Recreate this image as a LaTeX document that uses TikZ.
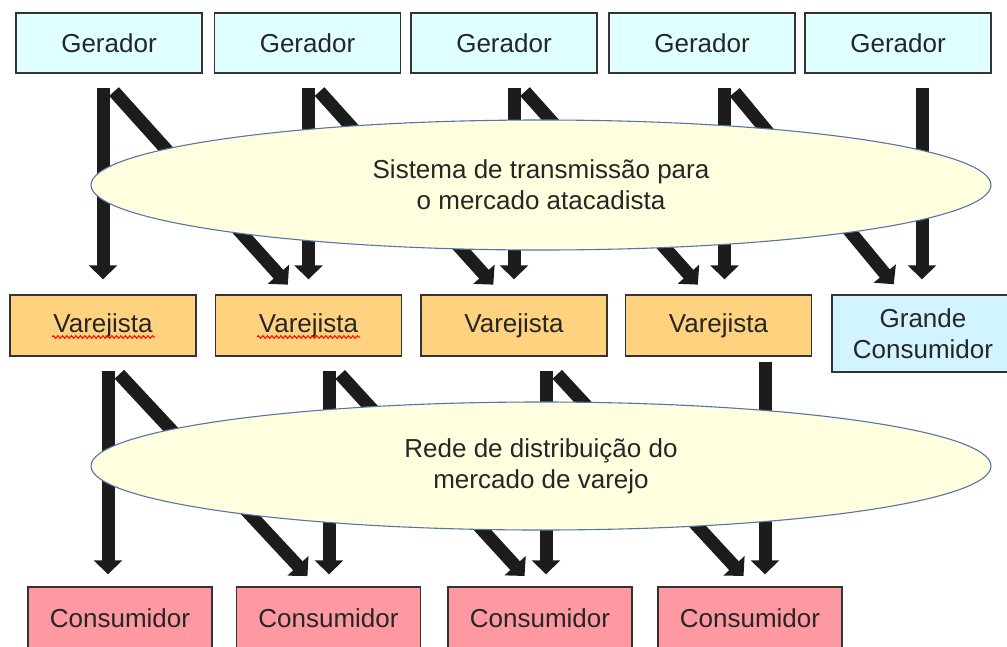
\documentclass[tikz,border=0pt]{standalone}
\usepackage{fontspec}
\setmainfont{Liberation Sans}
\usepackage{tikz}
\usetikzlibrary{arrows.meta, shapes.geometric, decorations.pathmorphing}
\usepackage{xcolor}

\definecolor{gerfill}{HTML}{E0FFFF}
\definecolor{grfill}{HTML}{D2F4FF}
\definecolor{varfill}{HTML}{FFD280}
\definecolor{confill}{HTML}{FF99A1}
\definecolor{elfill}{HTML}{FFFFE0}
\definecolor{elline}{HTML}{5676A8}
\definecolor{boxline}{HTML}{333333}
\definecolor{arrowcol}{HTML}{1C1C1C}

\begin{document}
\begin{tikzpicture}[x=1pt,y=-1pt]
\tikzstyle{box} = [
	shape=rectangle,
	draw=boxline, %border of the boxes
	line width=1.4pt,
	minimum height=60pt,
	inner sep=0pt,
	text=black!85,
	font=\fontsize{26}{31}\selectfont
];
\tikzstyle{gerador} = [box, fill=gerfill, minimum width=186pt];
\tikzstyle{varejista} = [box, fill=varfill, minimum width=186pt, minimum height=61pt];
\tikzstyle{consumidor} = [box, fill=confill, minimum width=184pt, minimum height=62pt];
\tikzstyle{grande} = [box, fill=grfill, minimum width=182pt, minimum height=77pt, align=center];
\tikzstyle{rede} = [
	shape=ellipse,
	draw=elline,
	fill=elfill,
	line width=1.1pt,
	minimum width=900pt,
	inner sep=0pt,
	align=center,
	text=black!85,
	font=\fontsize{26}{31}\selectfont
];
\tikzstyle{flow} = [-{Triangle[length=14pt,width=28pt]}, line width=13pt, color=arrowcol];
\tikzstyle{straight} = [flow, shorten <=14pt, shorten >=15pt];
\tikzstyle{slant} = [flow, shorten <=24pt, shorten >=13pt];
\tikzstyle{spell} = [red, line width=1pt, decorate, decoration={snake, amplitude=1.3pt, segment length=4.5pt}];

\path[use as bounding box, fill=white] (0,0) rectangle (1007,646);

%generators
\node[gerador](g1) at (109,43) {Gerador};
\node[gerador](g2) at (307.5,43) {Gerador};
\node[gerador](g3) at (504,43) {Gerador};
\node[gerador](g4) at (702,43) {Gerador};
\node[gerador](g5) at (898,43) {Gerador};

%retailers
\node[varejista](v1) at (103,325.5) {Varejista};
\node[varejista](v2) at (308.5,325.5) {Varejista};
\node[varejista](v3) at (514,325.5) {Varejista};
\node[varejista](v4) at (718.5,325.5) {Varejista};
\node[grande](gc) at (923,333.5) {Grande\\Consumidor};

%consumers
\node[consumidor](c1) at (120,618) {Consumidor};
\node[consumidor](c2) at (328.5,618) {Consumidor};
\node[consumidor](c3) at (540,618) {Consumidor};
\node[consumidor](c4) at (750,618) {Consumidor};

%wholesale flows
\draw[straight] (g1.south -| v1.north) -- (v1.north);
\draw[straight] (g2.south -| v2.north) -- (v2.north);
\draw[straight] (g3.south -| v3.north) -- (v3.north);
\draw[straight] ([xshift=6pt]v4.north |- g4.south) -- ([xshift=6pt]v4.north);
\draw[straight] ([xshift=-1pt]gc.north |- g5.south) -- ([xshift=-1pt]gc.north);
\draw[slant] ([xshift=-5pt]v1.north |- g1.south) -- ([xshift=-12pt]v2.north);
\draw[slant] ([xshift=-5pt]v2.north |- g2.south) -- ([xshift=-12pt]v3.north);
\draw[slant] ([xshift=-5pt]v3.north |- g3.south) -- ([xshift=-12pt]v4.north);
\draw[slant] ([xshift=1pt]v4.north |- g4.south) -- ([xshift=-21pt]gc.north);

%retail flows
\draw[straight, shorten >=12pt] ([xshift=-12pt]c1.north |- v1.south) -- ([xshift=-12pt]c1.north);
\draw[straight, shorten >=12pt] ([xshift=0.5pt]c2.north |- v2.south) -- ([xshift=0.5pt]c2.north);
\draw[straight, shorten >=12pt] ([xshift=6pt]c3.north |- v3.south) -- ([xshift=6pt]c3.north);
\draw[straight, shorten <=5pt, shorten >=12pt] ([xshift=15pt]c4.north |- v4.south) -- ([xshift=15pt]c4.north);
\draw[slant, shorten >=14pt] ([xshift=-17pt]c1.north |- v1.south) -- ([xshift=-11.5pt]c2.north);
\draw[slant, shorten >=14pt] ([xshift=-4.5pt]c2.north |- v2.south) -- ([xshift=-6pt]c3.north);
\draw[slant, shorten >=14pt] ([xshift=1pt]c3.north |- v3.south) -- ([xshift=3pt]c4.north);

%networks
\node[rede, minimum height=130pt](trans) at (541,185) {Sistema de transmissão para\\o mercado atacadista};
\node[rede, minimum height=128pt](dist) at (541,466) {Rede de distribuição do\\mercado de varejo};

%spell check marks
\draw[spell] ([shift={(-51,11.5)}]v1.center) -- ([shift={(52,11.5)}]v1.center);
\draw[spell] ([shift={(-51.5,11.5)}]v2.center) -- ([shift={(51.5,11.5)}]v2.center);
\end{tikzpicture}
\end{document}
